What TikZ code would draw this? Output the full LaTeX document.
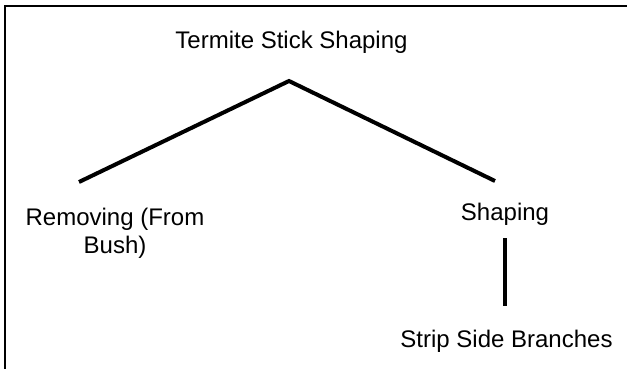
\documentclass[tikz,border=0pt]{standalone}
\usepackage{fontspec}
\setmainfont{Liberation Sans}
\usetikzlibrary{positioning,calc}
\tikzset{
  % text of the tree
  label/.style={inner sep=0pt, anchor=base, align=center,
    font=\fontsize{24}{28}\selectfont},
  % branches
  branch/.style={line width=4pt, line join=miter, black},
  % frame edges
  frameline/.style={line width=2pt, black},
}
\begin{document}
\begin{tikzpicture}[x=1pt, y=-1pt]
  \useasboundingbox (0,0) rectangle (627,369);

  % frame (only top and left show)
  \coordinate (fcorner) at (5,6);
  \coordinate (fright) at (627,6);
  \coordinate (fbottom) at (5,369);
  \draw[frameline] (fright) -- (fcorner) -- (fbottom);

  % labels
  \node[label] (title) at (291.5,49) {Termite Stick Shaping};
  \node[label] (remove) at (115,253) {Removing (From\\Bush)};
  \node[label] (shaping) at (505,220) {Shaping};
  \node[label] (strip) at (506.5,347) {Strip Side Branches};

  % branch ends
  \coordinate (apex) at (289,81);
  \coordinate (leftend) at (79,182);
  \coordinate (rightend) at (495,181);
  \coordinate (vtop) at (505,238);
  \coordinate (vbot) at (505,306);

  \draw[branch] (leftend) -- (apex) -- (rightend);
  \draw[branch] (vtop) -- (vbot);
\end{tikzpicture}
\end{document}
